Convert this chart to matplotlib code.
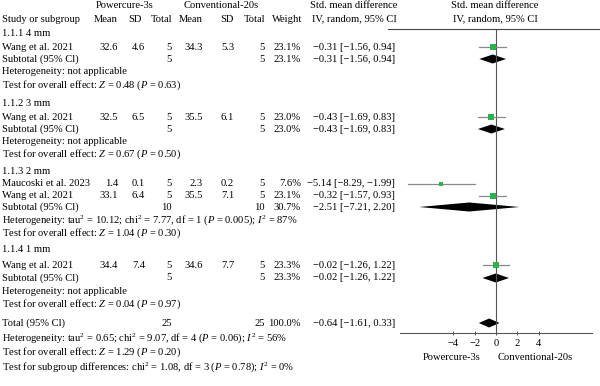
import matplotlib
matplotlib.use('Agg')
import matplotlib.pyplot as plt
from matplotlib.lines import Line2D

plt.rcParams['font.family'] = 'Liberation Serif'
plt.rcParams['font.size'] = 7.6
plt.rcParams['mathtext.fontset'] = 'custom'
plt.rcParams['mathtext.rm'] = 'Liberation Serif'
plt.rcParams['mathtext.it'] = 'Liberation Serif:italic'

# data
groups = ['1.1.1 4 mm', '1.1.2 3 mm', '1.1.3 2 mm', '1.1.4 1 mm']
study_group = [0, 1, 2, 2, 3]
study_names = ['Wang et al. 2021', 'Wang et al. 2021', 'Maucoski et al. 2023', 'Wang et al. 2021', 'Wang et al. 2021']
pc_mean = [32.6, 32.5, 1.4, 33.1, 34.4]
pc_sd = [4.6, 6.5, 0.1, 6.4, 7.4]
pc_n = [5, 5, 5, 5, 5]
cv_mean = [34.3, 35.5, 2.3, 35.5, 34.6]
cv_sd = [5.3, 6.1, 0.2, 7.1, 7.7]
cv_n = [5, 5, 5, 5, 5]
weight = [23.1, 23.0, 7.6, 23.1, 23.3]
smd = [-0.31, -0.43, -5.14, -0.32, -0.02]
ci_lo = [-1.56, -1.69, -8.29, -1.57, -1.26]
ci_hi = [0.94, 0.83, -1.99, 0.93, 1.22]

sub_pc_n = [5, 5, 10, 5]
sub_cv_n = [5, 5, 10, 5]
sub_weight = [23.1, 23.0, 30.7, 23.3]
sub_smd = [-0.31, -0.43, -2.51, -0.02]
sub_lo = [-1.56, -1.69, -7.21, -1.26]
sub_hi = [0.94, 0.83, 2.20, 1.22]
sub_het = ['Heterogeneity: not applicable',
           'Heterogeneity: not applicable',
           r'Heterogeneity: tau$^2$ = 10.12; chi$^2$ = 7.77, df = 1 ($P$ = 0.005); $I^2$ = 87%',
           'Heterogeneity: not applicable']
sub_z = ['0.48', '0.67', '1.04', '0.04']
sub_p = ['0.63', '0.50', '0.30', '0.97']

tot_n = [25, 25]
tot_smd, tot_lo, tot_hi = -0.64, -1.61, 0.33
tot_het = r'Heterogeneity: tau$^2$ = 0.65; chi$^2$ = 9.07, df = 4 ($P$ = 0.06); $I^2$ = 56%'
tot_test = r'Test for overall effect: $Z$ = 1.29 ($P$ = 0.20)'
sub_diff = r'Test for subgroup differences: chi$^2$ = 1.08, df = 3 ($P$ = 0.78); $I^2$ = 0%'

ticks = [-4, -2, 0, 2, 4]

# layout (pixel rows)
W, H = 600, 386
title_y = [33, 103, 171, 250]
study_y = [47, 117, 183.5, 195.5, 265]
subtot_y = [59, 129, 207, 278]
het_y = [72, 141, 220, 291]
test_y = [85, 154, 233, 304]
total_y = 323
AXIS_Y = 333

fig = plt.figure(figsize=(6, 3.86), dpi=100)

def txt(x, y, s, ha='left', **kw):
  fig.text(x / W, 1 - y / H, s, ha=ha, va='center', **kw)

def fmt(e, l, h):
  return f'{e:.2f} [{l:.2f}, {h:.2f}]'.replace('-', '\u2212')

# headers
txt(125, 6, 'Powercure-3s', ha='center')
txt(221, 6, 'Conventional-20s', ha='center')
txt(354, 6, 'Std. mean difference', ha='center')
txt(354, 19, 'IV, random, 95% CI', ha='center')
txt(495, 6, 'Std. mean difference', ha='center')
txt(495, 19, 'IV, random, 95% CI', ha='center')
txt(2, 19, 'Study or subgroup')
for xr, lab in [(118, 'Mean'), (142, 'SD'), (172, 'Total'), (203, 'Mean'), (234, 'SD'), (265, 'Total'), (302, 'Weight')]:
  txt(xr, 19, lab, ha='right')

fig.add_artist(Line2D([388 / W, 1], [1 - 29 / H] * 2, color='#444444', lw=0.8))

ax = fig.add_axes([400 / W, 1 - AXIS_Y / H, 192 / W, AXIS_Y / H])
ax.set_xlim(-9, 9)
ax.set_ylim(AXIS_Y, 0)
ax.patch.set_alpha(0)
for s in ['left', 'right', 'top']:
  ax.spines[s].set_visible(False)
ax.spines['bottom'].set_color('#555555')
ax.spines['bottom'].set_linewidth(0.8)
ax.set_yticks([])
ax.set_xticks(ticks)
ax.set_xticklabels([str(t).replace('-', '\u2212') for t in ticks])
ax.tick_params(axis='x', direction='inout', length=3, width=0.7, color='#555555', pad=2.5, labelsize=7.6)
ax.plot([0, 0], [29, AXIS_Y], color='#555555', lw=0.8)

def diamond(e, l, h, y, hh=4.5):
  ax.fill([l, e, h, e], [y, y - hh, y, y + hh], color='black', lw=0)

for i, name in enumerate(study_names):
  y = study_y[i]
  txt(2, y, name)
  txt(118, y, f'{pc_mean[i]}', ha='right')
  txt(145, y, f'{pc_sd[i]}', ha='right')
  txt(172, y, f'{pc_n[i]}', ha='right')
  txt(203, y, f'{cv_mean[i]}', ha='right')
  txt(234, y, f'{cv_sd[i]}', ha='right')
  txt(265, y, f'{cv_n[i]}', ha='right')
  txt(301, y, f'{weight[i]}%', ha='right')
  txt(395, y, fmt(smd[i], ci_lo[i], ci_hi[i]), ha='right')
  ax.plot([ci_lo[i], ci_hi[i]], [y, y], color='#888888', lw=0.9)
  ax.plot(smd[i], y, marker='s', color='#2bb44a', markersize=2.0 + weight[i] * 0.075, mew=0)

for g, gname in enumerate(groups):
  txt(2, title_y[g], gname)
  y = subtot_y[g]
  txt(2, y, 'Subtotal (95% Cl)')
  txt(172, y, f'{sub_pc_n[g]}', ha='right')
  txt(265, y, f'{sub_cv_n[g]}', ha='right')
  txt(301, y, f'{sub_weight[g]}%', ha='right')
  txt(395, y, fmt(sub_smd[g], sub_lo[g], sub_hi[g]), ha='right')
  diamond(sub_smd[g], sub_lo[g], sub_hi[g], y)
  txt(2, het_y[g], sub_het[g])
  txt(2, test_y[g], rf'Test for overall effect: $Z$ = {sub_z[g]} ($P$ = {sub_p[g]})')

txt(2, total_y, 'Total (95% Cl)')
txt(172, total_y, f'{tot_n[0]}', ha='right')
txt(265, total_y, f'{tot_n[1]}', ha='right')
txt(301, total_y, '100.0%', ha='right')
txt(395, total_y, fmt(tot_smd, tot_lo, tot_hi), ha='right')
diamond(tot_smd, tot_lo, tot_hi, total_y)
txt(2, 338, tot_het)
txt(2, 352, tot_test)
txt(2, 367, sub_diff)

txt(452, 358, 'Powercure-3s', ha='center')
txt(535, 358, 'Conventional-20s', ha='center')

fig.savefig('out.png', dpi=100)
